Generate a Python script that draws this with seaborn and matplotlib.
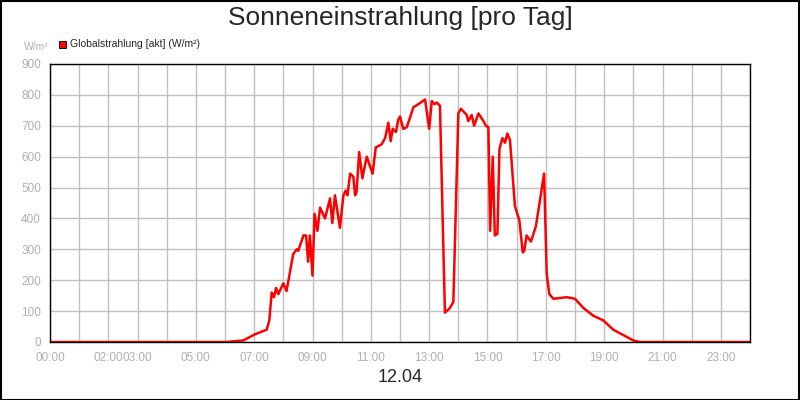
import matplotlib
matplotlib.use("Agg")
import matplotlib.pyplot as plt
import seaborn as sns
import pandas as pd
from matplotlib.patches import Rectangle

hours = [0, 6.06, 6.63, 7.03, 7.43, 7.52, 7.6, 7.68, 7.75, 7.83, 8.0, 8.11, 8.34, 8.46, 8.51, 8.69, 8.78, 8.85, 8.91, 9.0,
         9.07, 9.17, 9.26, 9.43, 9.6, 9.68, 9.77, 9.94, 10.06, 10.14, 10.2, 10.29, 10.4, 10.46, 10.51, 10.6, 10.71, 10.86,
         11.06, 11.17, 11.37, 11.49, 11.6, 11.68, 11.75, 11.86, 11.94,
         12.0, 12.11, 12.23, 12.32, 12.46, 12.63, 12.86, 13.0, 13.09, 13.18, 13.26, 13.37, 13.54, 13.71, 13.83, 14.0, 14.09,
         14.29, 14.34, 14.46, 14.54, 14.69, 14.83, 14.95, 15.03, 15.09, 15.18, 15.25, 15.34, 15.41, 15.51, 15.6, 15.68,
         15.77, 15.94, 16.09, 16.21, 16.26, 16.34, 16.49, 16.66, 16.94, 17.03, 17.12, 17.26, 17.71, 18.0, 18.29, 18.63,
         18.97, 19.31, 20.0, 20.23, 24]
values = [0, 0, 5, 25, 40, 70, 160, 145, 175, 155, 190, 165, 285, 300, 295, 345, 345, 260, 345, 215,
          415, 360, 435, 400, 465, 385, 475, 370, 475, 490, 475, 545, 535, 475, 485, 615, 530, 600,
          545, 630, 640, 660, 710, 650, 690, 680, 720,
          730, 690, 695, 720, 760, 770, 785, 690, 780, 770, 775, 765, 95, 110, 130, 740, 755,
          735, 715, 735, 700, 740, 720, 700, 695, 360, 600, 345, 350, 625, 660, 645, 675,
          655, 440, 395, 290, 295, 345, 325, 375, 545, 220, 155, 140, 145, 140, 110, 85,
          70, 40, 5, 0, 0]
tick_pos = [0, 2, 3, 5, 7, 9, 11, 13, 15, 17, 19, 21, 23]
tick_labels = ["00:00", "02:00", "03:00", "05:00", "07:00", "09:00", "11:00", "13:00", "15:00", "17:00", "19:00", "21:00", "23:00"]

df = pd.DataFrame({"h": hours, "v": values})
sns.set_style("white")
plt.rcParams['font.family'] = ['Liberation Sans', 'DejaVu Sans']
fig = plt.figure(figsize=(8, 4), dpi=100)
ax = fig.add_axes([50/800, 1-342/400, 700/800, 278/400])
sns.lineplot(data=df, x="h", y="v", color="#ff0000", lw=1.8, ax=ax)
ax.set_xlim(0, 24)
ax.set_ylim(0, 900)
ax.set_xticks(range(25), minor=True)
ax.set_xticks(tick_pos)
ax.set_xticklabels(tick_labels)
ax.set_yticks(range(0, 901, 100))
ax.grid(True, which="both", color="#c0c0c0", lw=1)
ax.tick_params(which="both", colors="#c0c0c0", labelcolor="#b0b0b0", labelsize=8.5, length=4, direction="out")
ax.tick_params(axis="y", length=3)
for s in ax.spines.values():
    s.set_color("black"); s.set_linewidth(1)
ax.set_xlabel(""); ax.set_ylabel("")
fig.text(0.5, 0.955, "Sonneneinstrahlung [pro Tag]", ha="center", va="center", fontsize=19)
fig.text(0.5, 0.055, "12.04", ha="center", va="center", fontsize=13)
fig.text(24/800, 1-47/400, "W/m²", ha="left", va="center", fontsize=7.5, color="#b0b0b0")
fig.patches.append(Rectangle((59/800, 1-48/400), 7/800, 7/400, transform=fig.transFigure, facecolor="#ff0000", edgecolor="black", lw=0.6))
fig.text(70/800, 1-44/400, "Globalstrahlung [akt] (W/m²)", ha="left", va="center", fontsize=7.5)
fig.patches.append(Rectangle((0.5/800, 0.5/400), 798.5/800, 398.5/400, transform=fig.transFigure, facecolor="none", edgecolor="black", lw=1.5))
fig.savefig("out.png", dpi=100)
